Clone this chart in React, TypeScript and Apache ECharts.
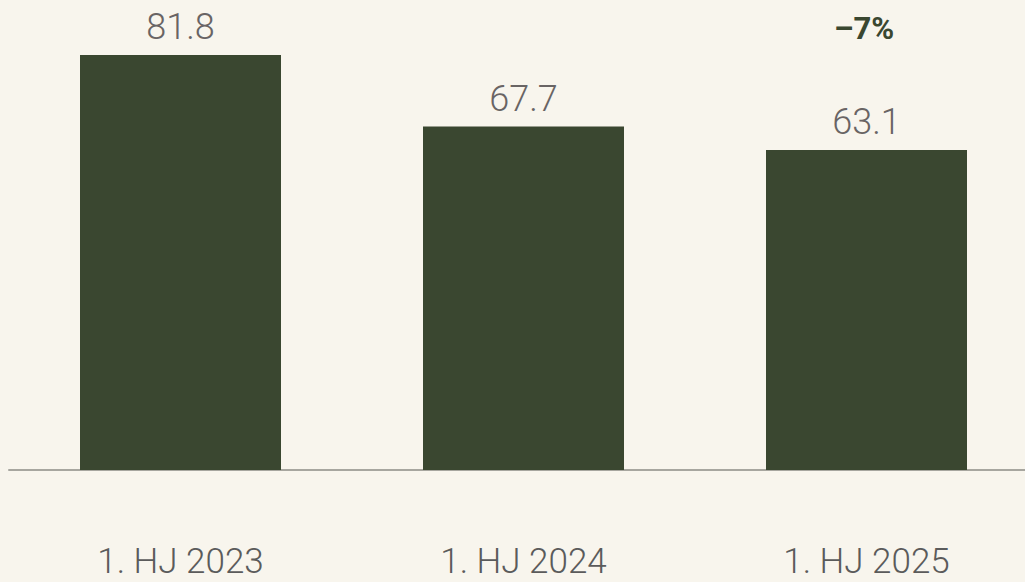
import React, { useEffect, useRef } from "react";
import * as echarts from "echarts";

const categories = ["1. HJ 2023", "1. HJ 2024", "1. HJ 2025"];
const values = [81.8, 67.7, 63.1];
const changeLabel = "–7%";

export default function App() {
  const ref = useRef<HTMLDivElement>(null);
  useEffect(() => {
    const chart = echarts.init(ref.current!, null, { renderer: "svg" });
    chart.setOption({
      animation: false,
      backgroundColor: "#f8f5ed",
      grid: { left: 9, right: 2, top: 13.5, bottom: 112, containLabel: false },
      xAxis: {
        type: "category",
        data: categories,
        axisLine: { show: true, lineStyle: { color: "#a7a69f", width: 2 } },
        axisTick: { show: false },
        axisLabel: {
          margin: 74,
          fontSize: 35,
          fontFamily: "Roboto",
          fontWeight: 300,
          color: "#5b5b5b",
        },
      },
      yAxis: {
        type: "value",
        min: 0,
        max: 90,
        show: false,
        splitLine: { show: false },
      },
      series: [
        {
          type: "bar",
          data: values,
          barWidth: 201,
          itemStyle: { color: "#3a4730" },
          label: {
            show: true,
            position: "top",
            distance: 10,
            fontSize: 36,
            fontFamily: "Roboto",
            fontWeight: 300,
            color: "#696464",
            formatter: (p: any) => p.value.toFixed(1),
          },
        },
      ],
      graphic: [
        {
          type: "text",
          x: 864,
          y: 28,
          style: {
            text: changeLabel,
            fontSize: 31,
            fontWeight: "bold",
            fontFamily: "Roboto",
            fill: "#3a4730",
            textAlign: "center",
            textVerticalAlign: "middle",
          },
        },
      ],
    });
    return () => chart.dispose();
  }, []);
  return (
    <div style={{ width: 1025, height: 582, position: "absolute", left: 0, top: 0, overflow: "hidden" }}>
      <div ref={ref} style={{ width: 1040, height: 582, position: "absolute", left: 0, top: 0 }} />
    </div>
  );
}
